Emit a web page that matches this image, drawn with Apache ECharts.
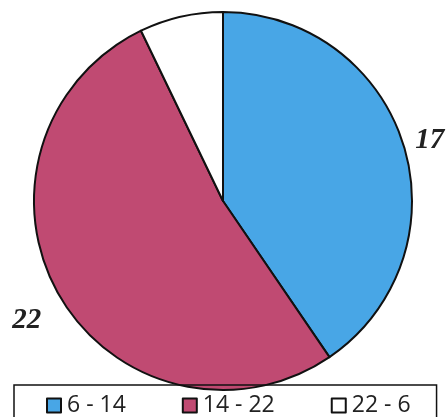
<!DOCTYPE html>
<html>
<head>
<meta charset="utf-8">
<script src="https://cdn.jsdelivr.net/npm/echarts@6/dist/echarts.min.js"></script>
<style>
  html, body { margin: 0; padding: 0; background: #fff; }
  #chart { width: 446px; height: 417px; }
</style>
</head>
<body>
<div id="chart"></div>
<script>
// time slots and counts
const shifts = ['6 - 14', '14 - 22', '22 - 6'];
const counts = [17, 22, 3];
const colors = ['#48a6e6', '#c04a72', '#ffffff'];
const showLabel = [true, true, false];

const myChart = echarts.init(document.getElementById('chart'));

const option = {
    animation: false,
    backgroundColor: '#ffffff',
    legend: {
        data: shifts,
        left: 14,
        top: 385,
        orient: 'horizontal',
        icon: 'rect',
        itemWidth: 14,
        itemHeight: 14,
        itemGap: 56,
        padding: [9, 26, 20, 32],
        borderColor: '#111',
        borderWidth: 1.5,
        textStyle: {
            fontFamily: 'Open Sans',
            fontSize: 23,
            color: '#222',
            padding: [0, 0, 0, 1]
        }
    },
    series: [{
        type: 'pie',
        center: [223, 201],
        radius: 189,
        startAngle: 90,
        clockwise: true,
        itemStyle: {
            borderColor: '#111',
            borderWidth: 2
        },
        label: {
            position: 'outside',
            formatter: '{c}',
            overflow: 'none',
            fontFamily: 'Liberation Serif',
            fontStyle: 'italic',
            fontWeight: 'bold',
            fontSize: 29,
            color: '#222'
        },
        labelLine: { show: false, length: 6, length2: 4 },
        labelLayout: function (params) {
            // nudge the two labels towards where the scan has them
            return params.dataIndex === 1 ? { dx: -4, dy: 22 } : { dx: -3, dy: -3 };
        },
        data: shifts.map((name, i) => ({
            name: name,
            value: counts[i],
            itemStyle: { color: colors[i] },
            label: { show: showLabel[i] }
        }))
    }]
};

myChart.setOption(option, true);
</script>
</body>
</html>
